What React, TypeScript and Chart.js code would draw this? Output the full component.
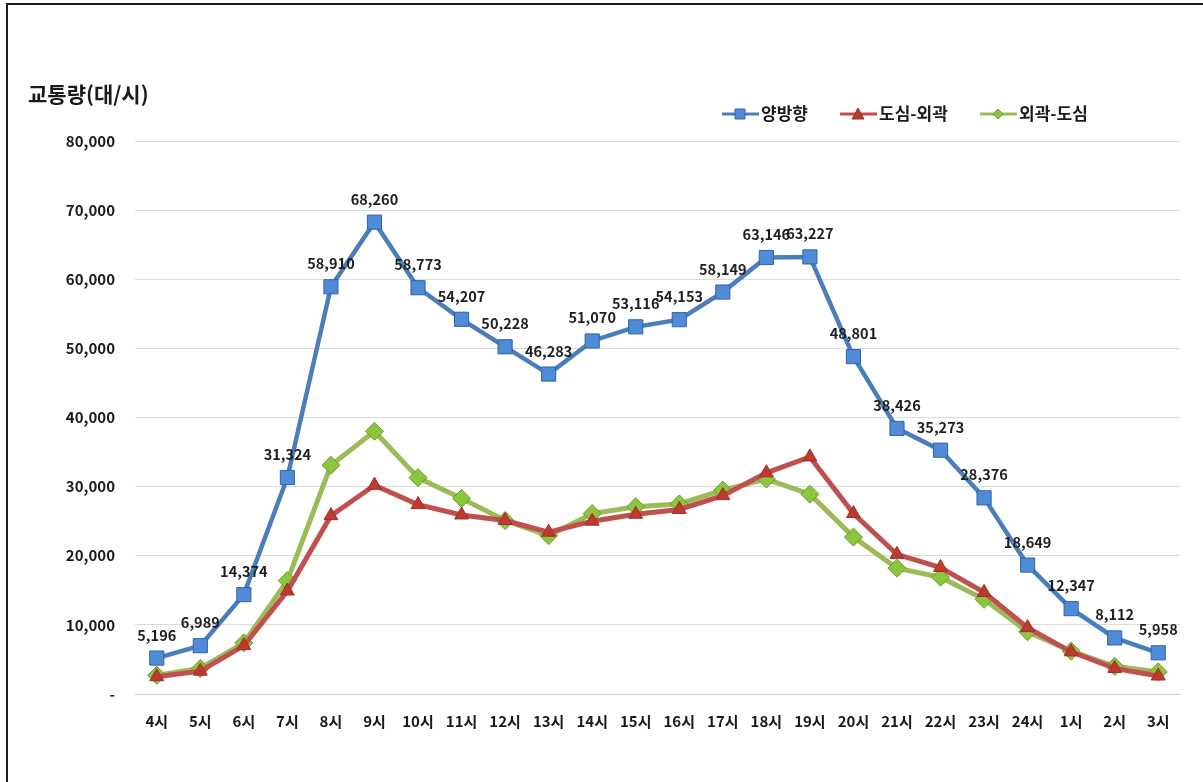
import React, { useEffect, useRef } from "react";
import { Chart, registerables } from "chart.js";

Chart.register(...registerables);

const hours = ["4시","5시","6시","7시","8시","9시","10시","11시","12시","13시","14시","15시","16시","17시","18시","19시","20시","21시","22시","23시","24시","1시","2시","3시"];
const bothDirections = [5196,6989,14374,31324,58910,68260,58773,54207,50228,46283,51070,53116,54153,58149,63146,63227,48801,38426,35273,28376,18649,12347,8112,5958];
const cityToOuter = [2500,3300,7000,14900,25800,30200,27400,25900,25100,23400,25000,26000,26700,28700,32000,34300,26100,20200,18300,14700,9600,6100,3700,2600];
const outerToCity = [2700,3700,7400,16400,33100,38000,31300,28300,25100,22900,26100,27100,27500,29500,31100,28900,22700,18200,16900,13700,9000,6200,4000,3200];
const seriesNames = ["양방향","도심-외곽","외곽-도심"];
const yTicks = [0,10000,20000,30000,40000,50000,60000,70000,80000];
const titleText = "교통량(대/시)";

const FONT = "'Noto Sans CJK KR', 'Noto Sans', sans-serif";

const colors = {
  blueLine: "#4A7EBB",
  blueFill: "#4F8BD6",
  blueBorder: "#2F63A8",
  redLine: "#C0504D",
  redFill: "#C0392F",
  redBorder: "#9A2F2C",
  greenLine: "#9BBB59",
  greenFill: "#8CC63F",
  greenBorder: "#6E9A2A",
};

function drawLegendMarker(ctx: CanvasRenderingContext2D, style: string, x: number, y: number) {
  ctx.beginPath();
  if (style === "rect") {
    ctx.rect(x - 5, y - 5, 10, 10);
  } else if (style === "triangle") {
    ctx.moveTo(x, y - 6);
    ctx.lineTo(x + 6, y + 5);
    ctx.lineTo(x - 6, y + 5);
    ctx.closePath();
  } else {
    ctx.moveTo(x, y - 5);
    ctx.lineTo(x + 5, y);
    ctx.lineTo(x, y + 5);
    ctx.lineTo(x - 5, y);
    ctx.closePath();
  }
  ctx.fill();
  ctx.stroke();
}

const overlayPlugin = {
  id: "overlay",
  beforeDraw(chart: any) {
    const ctx = chart.ctx;
    ctx.save();
    ctx.fillStyle = "#ffffff";
    ctx.fillRect(0, 0, chart.width, chart.height);
    ctx.fillStyle = "#1a1a1a";
    ctx.fillRect(6, 3, chart.width - 6, 2);
    ctx.fillRect(6, 3, 2, chart.height - 3);
    ctx.restore();
  },
  afterDatasetsDraw(chart: any) {
    const ctx = chart.ctx;
    ctx.save();
    // data labels for first series
    const meta = chart.getDatasetMeta(0);
    ctx.font = `bold 14.5px ${FONT}`;
    ctx.fillStyle = "#1f1f1f";
    ctx.textAlign = "center";
    ctx.textBaseline = "middle";
    meta.data.forEach((pt: any, i: number) => {
      ctx.fillText(bothDirections[i].toLocaleString("en-US"), pt.x, pt.y - 23);
    });
    // title
    ctx.font = `bold 21px ${FONT}`;
    ctx.textAlign = "left";
    ctx.fillStyle = "#1a1a1a";
    ctx.fillText(titleText, 28, 94);
    // legend
    const items = [
      { x: 722, name: seriesNames[0], line: colors.blueLine, fill: colors.blueFill, border: colors.blueBorder, style: "rect" },
      { x: 840, name: seriesNames[1], line: colors.redLine, fill: colors.redFill, border: colors.redBorder, style: "triangle" },
      { x: 980, name: seriesNames[2], line: colors.greenLine, fill: colors.greenFill, border: colors.greenBorder, style: "rectRot" },
    ];
    const ly = 114;
    items.forEach((it) => {
      ctx.strokeStyle = it.line;
      ctx.lineWidth = 3;
      ctx.beginPath();
      ctx.moveTo(it.x, ly);
      ctx.lineTo(it.x + 37, ly);
      ctx.stroke();
      ctx.fillStyle = it.fill;
      ctx.strokeStyle = it.border;
      ctx.lineWidth = 1;
      drawLegendMarker(ctx, it.style, it.x + 18, ly);
      ctx.fillStyle = "#1a1a1a";
      ctx.font = `bold 17px ${FONT}`;
      ctx.textAlign = "left";
      ctx.textBaseline = "middle";
      ctx.fillText(it.name, it.x + 39, ly);
    });
    ctx.restore();
  },
};

export default function App() {
  const ref = useRef<HTMLCanvasElement | null>(null);
  useEffect(() => {
    document.body.style.margin = "0";
    const canvas = ref.current!;
    const chart = new Chart(canvas, {
      type: "line",
      data: {
        labels: hours,
        datasets: [
          {
            label: seriesNames[0],
            data: bothDirections,
            borderColor: colors.blueLine,
            backgroundColor: colors.blueFill,
            pointBackgroundColor: colors.blueFill,
            pointBorderColor: colors.blueBorder,
            borderWidth: 4.5,
            pointStyle: "rect",
            pointRadius: 10,
            pointBorderWidth: 1,
            tension: 0,
          },
          {
            label: seriesNames[1],
            data: cityToOuter,
            borderColor: colors.redLine,
            backgroundColor: colors.redFill,
            pointBackgroundColor: colors.redFill,
            pointBorderColor: colors.redBorder,
            borderWidth: 5,
            pointStyle: "triangle",
            pointRadius: 8,
            pointBorderWidth: 1,
            tension: 0,
          },
          {
            label: seriesNames[2],
            data: outerToCity,
            borderColor: colors.greenLine,
            backgroundColor: colors.greenFill,
            pointBackgroundColor: colors.greenFill,
            pointBorderColor: colors.greenBorder,
            borderWidth: 5,
            pointStyle: "rectRot",
            pointRadius: 9,
            pointBorderWidth: 1,
            tension: 0,
          },
        ],
      },
      options: {
        animation: false,
        responsive: false,
        layout: { padding: { top: 141, right: 23, bottom: 34, left: 0 } },
        plugins: {
          legend: { display: false },
          title: { display: false },
          tooltip: { enabled: false },
        },
        scales: {
          x: {
            offset: true,
            grid: { display: false, drawTicks: false },
            border: { display: true, color: "#D0D0D0", width: 1 },
            ticks: {
              padding: 18,
              color: "#1a1a1a",
              font: { family: FONT, size: 15, weight: "bold" },
              maxRotation: 0,
              autoSkip: false,
            },
          },
          y: {
            min: 0,
            max: 80000,
            afterFit: (scale: any) => { scale.width = 135; },
            afterBuildTicks: (scale: any) => { scale.ticks = yTicks.map((v) => ({ value: v })); },
            grid: { color: "#DADADA", lineWidth: 1, drawTicks: false },
            border: { display: false },
            ticks: {
              padding: 20,
              color: "#1a1a1a",
              font: { family: FONT, size: 15, weight: "bold" },
              callback: (v: any) => (Number(v) === 0 ? "-" : Number(v).toLocaleString("en-US")),
            },
          },
        },
      },
      plugins: [overlayPlugin],
    } as any);
    return () => chart.destroy();
  }, []);
  return (
    <div style={{ position: "absolute", left: 0, top: 0, width: 1203, height: 782, background: "#fff" }}>
      <canvas ref={ref} width={1203} height={782} style={{ display: "block", width: 1203, height: 782 }} />
    </div>
  );
}
